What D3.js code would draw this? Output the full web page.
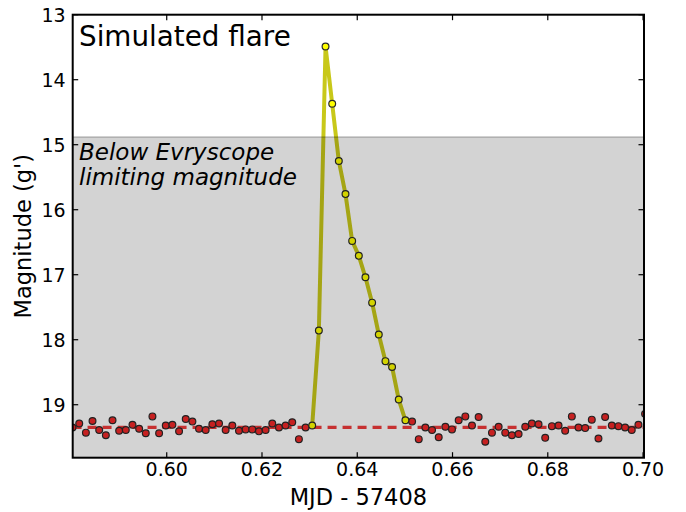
<!DOCTYPE html>
<html>
<head>
<meta charset="utf-8">
<script src="https://cdn.jsdelivr.net/npm/d3@7"></script>
<style>
  html, body { margin: 0; padding: 0; background: #fff; }
  text { font-family: "DejaVu Sans", sans-serif; }
</style>
</head>
<body>
<div id="chart"></div>
<script>
// quiet (non-flaring) photometry, MJD - 57408 and g' magnitude
var quietMjd = [
  0.58023, 0.58163, 0.58303, 0.58442, 0.58582, 0.58722, 0.58862, 0.59001, 0.59141, 0.59281,
  0.59421, 0.59560, 0.59700, 0.59840, 0.59980, 0.60119, 0.60259, 0.60399, 0.60539, 0.60678,
  0.60818, 0.60958, 0.61098, 0.61237, 0.61377, 0.61517, 0.61657, 0.61796, 0.61936, 0.62076,
  0.62216, 0.62356, 0.62495, 0.62635, 0.62775, 0.62915,
  0.65151, 0.65291, 0.65430, 0.65570, 0.65710, 0.65850, 0.65989, 0.66129, 0.66269, 0.66409,
  0.66548, 0.66688, 0.66828, 0.66968, 0.67107, 0.67247, 0.67387, 0.67527, 0.67666, 0.67806,
  0.67946, 0.68086, 0.68226, 0.68365, 0.68505, 0.68645, 0.68785, 0.68924, 0.69064, 0.69204,
  0.69344, 0.69483, 0.69623, 0.69763, 0.69903, 0.70042
];
var quietMag = [
  19.35, 19.29, 19.43, 19.25, 19.39, 19.47, 19.24, 19.40, 19.39, 19.31,
  19.37, 19.44, 19.18, 19.44, 19.32, 19.31, 19.41, 19.22, 19.26, 19.37,
  19.39, 19.30, 19.29, 19.39, 19.32, 19.40, 19.38, 19.38, 19.41, 19.39,
  19.29, 19.35, 19.32, 19.27, 19.53, 19.35,
  19.26, 19.53, 19.35, 19.39, 19.50, 19.34, 19.38, 19.24, 19.18, 19.32,
  19.19, 19.57, 19.43, 19.34, 19.43, 19.47, 19.45, 19.34, 19.29, 19.30,
  19.51, 19.33, 19.32, 19.40, 19.18, 19.35, 19.36, 19.23, 19.52, 19.19,
  19.32, 19.33, 19.35, 19.39, 19.31, 19.14
];
// simulated flare points
var flareMjd = [
  0.63054, 0.63194, 0.63334, 0.63474, 0.63613, 0.63753, 0.63893, 0.64033,
  0.64172, 0.64312, 0.64452, 0.64592, 0.64731, 0.64871, 0.65011
];
var flareMag = [
  19.32, 17.86, 13.49, 14.37, 15.25, 15.76, 16.48, 16.71,
  17.04, 17.43, 17.92, 18.33, 18.42, 18.92, 19.24
];
var quiescentMag = 19.35;
var limitMag = 14.88;
var xTicks = [0.60, 0.62, 0.64, 0.66, 0.68, 0.70];
var yTicks = [13, 14, 15, 16, 17, 18, 19];

var W = 686, H = 512;
var L = 72.7, R = 644, T = 14.7, B = 457.7;

var svg = d3.select("#chart").append("svg").attr("width", W).attr("height", H);

var x = d3.scaleLinear().domain([0.58026, 0.7002]).range([L, R]);
var y = d3.scaleLinear().domain([13, 19.815]).range([T, B]);

svg.append("clipPath").attr("id", "clip").append("rect")
  .attr("x", L).attr("y", T).attr("width", R - L).attr("height", B - T);

var g = svg.append("g").attr("clip-path", "url(#clip)");

// quiescent level
g.append("line")
  .attr("x1", x(quietMjd[0])).attr("x2", x(quietMjd[quietMjd.length - 1]))
  .attr("y1", y(quiescentMag)).attr("y2", y(quiescentMag))
  .attr("stroke", "#f03a3a").attr("stroke-width", 3.2).attr("stroke-dasharray", "9,6");

g.selectAll(".q").data(quietMjd).enter().append("circle")
  .attr("class", "q")
  .attr("cx", function (d) { return x(d); })
  .attr("cy", function (d, i) { return y(quietMag[i]); })
  .attr("r", 3.4)
  .attr("fill", "#f02828").attr("stroke", "#2a2a2a").attr("stroke-width", 1.2);

var line = d3.line()
  .x(function (d) { return x(d); })
  .y(function (d, i) { return y(flareMag[i]); });

g.append("path").datum(flareMjd).attr("d", line)
  .attr("fill", "none").attr("stroke", "#c2c200").attr("stroke-opacity", 0.9)
  .attr("stroke-width", 4).attr("stroke-linejoin", "round");

g.selectAll(".f").data(flareMjd).enter().append("circle")
  .attr("class", "f")
  .attr("cx", function (d) { return x(d); })
  .attr("cy", function (d, i) { return y(flareMag[i]); })
  .attr("r", 3.4)
  .attr("fill", "#ffff00").attr("stroke", "#2a2a2a").attr("stroke-width", 1.2);

// region below the limiting magnitude, drawn over the data
g.append("rect")
  .attr("x", L).attr("width", R - L)
  .attr("y", y(limitMag)).attr("height", B - y(limitMag))
  .attr("fill", "#000").attr("fill-opacity", 0.172);
g.append("line")
  .attr("x1", L).attr("x2", R).attr("y1", y(limitMag)).attr("y2", y(limitMag))
  .attr("stroke", "#000").attr("stroke-opacity", 0.22).attr("stroke-width", 1.5);

svg.append("text").attr("x", 79).attr("y", 46).attr("font-size", "27.8px").text("Simulated flare");
svg.append("text").attr("x", 79).attr("y", 159.5).attr("font-size", "23px")
  .attr("font-style", "italic").text("Below Evryscope");
svg.append("text").attr("x", 79).attr("y", 185).attr("font-size", "23px")
  .attr("font-style", "italic").text("limiting magnitude");

// ticks (inward, mirrored on top and right)
var tk = 5.5;
var ax = svg.append("g").attr("stroke", "#000").attr("stroke-width", 1.2);
xTicks.forEach(function (t) {
  ax.append("line").attr("x1", x(t)).attr("x2", x(t)).attr("y1", B).attr("y2", B - tk);
  ax.append("line").attr("x1", x(t)).attr("x2", x(t)).attr("y1", T).attr("y2", T + tk);
});
yTicks.forEach(function (t) {
  ax.append("line").attr("x1", L).attr("x2", L + tk).attr("y1", y(t)).attr("y2", y(t));
  ax.append("line").attr("x1", R).attr("x2", R - tk).attr("y1", y(t)).attr("y2", y(t));
});

svg.append("rect").attr("x", L).attr("y", T).attr("width", R - L).attr("height", B - T)
  .attr("fill", "none").attr("stroke", "#000").attr("stroke-width", 2);

svg.selectAll(".xl").data(xTicks).enter().append("text")
  .attr("x", function (d) { return x(d); }).attr("y", 476)
  .attr("text-anchor", "middle").attr("font-size", "19px")
  .text(function (d) { return d3.format(".2f")(d); });

svg.selectAll(".yl").data(yTicks).enter().append("text")
  .attr("x", L - 7).attr("y", function (d) { return y(d); })
  .attr("dy", "0.36em").attr("text-anchor", "end").attr("font-size", "19px")
  .text(function (d) { return d; });

svg.append("text").attr("x", (L + R) / 2).attr("y", 505)
  .attr("text-anchor", "middle").attr("font-size", "22.5px").text("MJD - 57408");
svg.append("text").attr("transform", "translate(31," + (T + B) / 2 + ") rotate(-90)")
  .attr("text-anchor", "middle").attr("font-size", "22.5px").text("Magnitude (g')");
</script>
</body>
</html>
